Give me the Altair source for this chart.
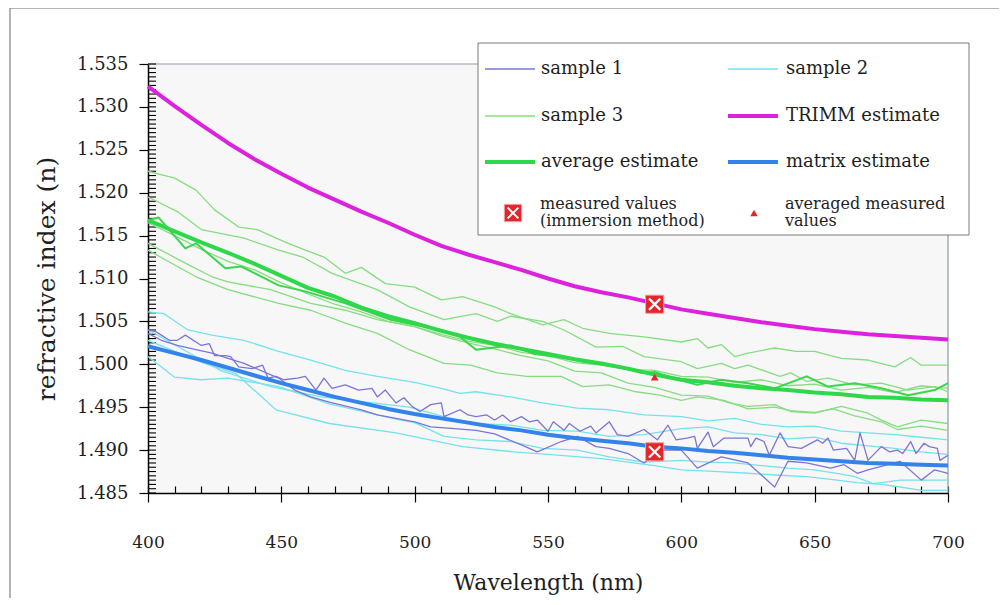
import altair as alt
import pandas as pd

# ---------------- data ----------------
WL10 = [400, 410, 420, 430, 440, 450, 460, 470, 480, 490, 500, 510, 520, 530, 540,
        550, 560, 570, 580, 590, 600, 610, 620, 630, 640, 650, 660, 670, 680, 690, 700]

TRIMM_N = [1.5324, 1.5301, 1.5279, 1.5258, 1.5239, 1.5222, 1.5206, 1.5192, 1.5178, 1.5165,
           1.5151, 1.5138, 1.5128, 1.5119, 1.5110, 1.5100, 1.5091, 1.5084, 1.5078, 1.5071,
           1.5064, 1.5059, 1.5054, 1.5049, 1.5045, 1.5041, 1.5038, 1.5035, 1.5033, 1.5031, 1.5029]

MATRIX_N = [1.5021, 1.5013, 1.5005, 1.4996, 1.4987, 1.4978, 1.4970, 1.4962, 1.4955, 1.4948,
            1.4942, 1.4937, 1.4932, 1.4927, 1.4923, 1.4918, 1.4914, 1.4911, 1.4908, 1.4904,
            1.4902, 1.4899, 1.4897, 1.4894, 1.4891, 1.4889, 1.4887, 1.4885, 1.4884, 1.4883, 1.4882]

AVG_N = [1.5168, 1.5155, 1.5142, 1.5130, 1.5117, 1.5103, 1.5089, 1.5079, 1.5066, 1.5056,
         1.5048, 1.5039, 1.5031, 1.5024, 1.5018, 1.5012, 1.5006, 1.5001, 1.4995, 1.4988,
         1.4982, 1.4979, 1.4975, 1.4972, 1.4970, 1.4967, 1.4965, 1.4962, 1.4961, 1.4959, 1.4958]

# bright green measured average (zig-zag companion of the average estimate)
AVGM_WL = [400, 404, 414, 418, 429, 435, 449, 459, 474, 491, 500, 510, 517, 523, 536, 545, 555,
           565, 575, 585, 590, 600, 606, 615, 625, 635, 647, 655, 665, 675, 685, 695, 700]
AVGM_N = [1.5168, 1.5171, 1.5135, 1.5141, 1.5112, 1.5114, 1.5092, 1.5085, 1.5071, 1.5052,
          1.5046, 1.5040, 1.5032, 1.5017, 1.5022, 1.5012, 1.5008, 1.5002, 1.4998, 1.4990,
          1.4991, 1.4981, 1.4976, 1.4982, 1.4978, 1.4972, 1.4986, 1.4974, 1.4978, 1.4972,
          1.4964, 1.4970, 1.4978]

# sample 3 (green)
G1_WL = [400, 410, 418, 425, 434, 441, 451, 459, 466, 474, 480, 489, 500, 510, 518, 530, 536,
         548, 556, 563, 573, 586, 600, 606, 610, 615, 620, 625, 635, 643, 650, 660, 670, 680,
         686, 690, 700]
G1_N = [1.5225, 1.5217, 1.5203, 1.5180, 1.5160, 1.5157, 1.5143, 1.5133, 1.5125, 1.5106,
        1.5113, 1.5094, 1.5090, 1.5075, 1.5079, 1.5067, 1.5059, 1.5046, 1.5052, 1.5042,
        1.5036, 1.5032, 1.5026, 1.5030, 1.5019, 1.5023, 1.5009, 1.5013, 1.5019, 1.5015,
        1.5015, 1.5007, 1.5005, 1.4997, 1.5008, 1.4999, 1.4999]
G2_WL = [400, 411, 420, 436, 449, 458, 469, 486, 498, 511, 523, 531, 536, 548, 556, 568, 578,
         586, 600, 606, 615, 620, 625, 637, 641, 647, 655, 665, 675, 685, 695, 700]
G2_N = [1.5195, 1.5178, 1.5157, 1.5147, 1.5133, 1.5125, 1.5106, 1.5087, 1.5067, 1.5052,
        1.5059, 1.5050, 1.5056, 1.5050, 1.5040, 1.5020, 1.5021, 1.5009, 1.5003, 1.4995,
        1.5001, 1.4995, 1.4999, 1.4986, 1.4990, 1.4980, 1.4984, 1.4976, 1.4978, 1.4970,
        1.4974, 1.4968]
G3_N = [1.5165, 1.5150, 1.5134, 1.5120, 1.5110, 1.5095, 1.5082, 1.5070, 1.5061, 1.5050,
        1.5044, 1.5035, 1.5027, 1.5022, 1.5014, 1.5010, 1.5002, 1.4999, 1.4994, 1.4993,
        1.4986, 1.4985, 1.4979, 1.4982, 1.4975, 1.4977, 1.4970, 1.4973, 1.4967, 1.4975, 1.4972]
G4_WL = [400, 414, 424, 430, 446, 461, 474, 486, 500, 510, 520, 530, 540, 550, 560, 570, 580,
         590, 600, 610, 618, 625, 635, 641, 650, 660, 670, 675, 681, 690, 700]
G4_N = [1.5141, 1.5118, 1.5102, 1.5096, 1.5087, 1.5071, 1.5063, 1.5052, 1.5044, 1.5033,
        1.5025, 1.5018, 1.5010, 1.5004, 1.4992, 1.4990, 1.4978, 1.4973, 1.4964, 1.4963,
        1.4955, 1.4951, 1.4953, 1.4945, 1.4943, 1.4951, 1.4943, 1.4935, 1.4927, 1.4935, 1.4931]
G5_WL = [400, 418, 430, 449, 461, 474, 486, 498, 511, 521, 531, 542, 555, 563, 573, 583, 592,
         600, 606, 616, 625, 635, 641, 650, 657, 665, 675, 681, 690, 700]
G5_N = [1.5133, 1.5102, 1.5087, 1.5071, 1.5063, 1.5048, 1.5036, 1.5017, 1.5001, 1.4999,
        1.4990, 1.4986, 1.4986, 1.4974, 1.4976, 1.4968, 1.4964, 1.4958, 1.4962, 1.4958,
        1.4948, 1.4950, 1.4946, 1.4944, 1.4948, 1.4940, 1.4933, 1.4924, 1.4928, 1.4923]

# sample 2 (cyan)
C1_WL = [400, 406, 415, 424, 436, 449, 461, 474, 486, 500, 510, 517, 523, 536, 548, 561, 573,
         586, 600, 610, 620, 630, 640, 650, 660, 670, 680, 690, 700]
C1_N = [1.5061, 1.5059, 1.5040, 1.5034, 1.5028, 1.5015, 1.5005, 1.4993, 1.4986, 1.4979,
        1.4972, 1.4966, 1.4968, 1.4962, 1.4955, 1.4949, 1.4947, 1.4941, 1.4939, 1.4934,
        1.4937, 1.4930, 1.4927, 1.4928, 1.4922, 1.4920, 1.4918, 1.4915, 1.4912]
C2_WL = [400, 411, 427, 446, 465, 490, 498, 511, 523, 536, 548, 561, 573, 586, 600, 610, 620,
         630, 640, 650, 660, 670, 680, 690, 700]
C2_N = [1.5040, 1.5021, 1.4993, 1.4974, 1.4962, 1.4953, 1.4950, 1.4939, 1.4931, 1.4929,
        1.4923, 1.4922, 1.4916, 1.4918, 1.4925, 1.4927, 1.4920, 1.4918, 1.4913, 1.4915,
        1.4908, 1.4905, 1.4902, 1.4898, 1.4895]
C3_WL = [400, 410, 420, 430, 449, 468, 493, 500, 511, 523, 536, 548, 561, 573, 586, 600, 610,
         620, 630, 640, 650, 660, 665, 672, 682, 700]
C3_N = [1.5009, 1.4985, 1.4982, 1.4984, 1.4974, 1.4954, 1.4936, 1.4932, 1.4916, 1.4912,
        1.4910, 1.4902, 1.4900, 1.4892, 1.4886, 1.4888, 1.4886, 1.4885, 1.4882, 1.4879,
        1.4877, 1.4872, 1.4869, 1.4861, 1.4865, 1.4865]
C4_WL = [400, 421, 433, 448, 468, 493, 518, 537, 550, 570, 590, 600, 614, 625, 635, 647, 656,
         666, 675, 682, 690, 700]
C4_N = [1.5028, 1.5001, 1.4989, 1.4947, 1.4931, 1.4920, 1.4904, 1.4898, 1.4895, 1.4890,
        1.4882, 1.4877, 1.4875, 1.4873, 1.4871, 1.4869, 1.4866, 1.4862, 1.4860, 1.4857,
        1.4853, 1.4853]

# sample 1 (blue-violet, noisy)
S1A_WL = [400, 403, 405, 408, 411, 414, 420, 423, 425, 429, 431, 434, 439, 443, 445, 448, 451,
          456, 459, 463, 466, 469, 474, 479, 484, 486, 489, 493, 496, 499, 502, 506, 510, 511,
          517, 520, 523, 527, 530, 533, 536, 540, 543, 546, 550, 552, 556, 558, 562, 566, 568,
          573, 576, 580, 586, 591, 595, 598, 602, 605, 606, 610, 612, 616, 625, 626, 628, 631,
          633, 637, 640, 645, 651, 653, 655, 657, 662, 665, 667, 670, 675, 678, 681, 683, 686,
          688, 691, 693, 696, 697, 700]
S1A_N = [1.5040, 1.5038, 1.5034, 1.5028, 1.5028, 1.5034, 1.5022, 1.5024, 1.5010, 1.5010,
         1.5009, 1.4997, 1.4995, 1.4999, 1.4984, 1.4986, 1.4982, 1.4984, 1.4986, 1.4970,
         1.4984, 1.4972, 1.4976, 1.4970, 1.4972, 1.4962, 1.4970, 1.4955, 1.4961, 1.4951,
         1.4945, 1.4953, 1.4955, 1.4939, 1.4947, 1.4941, 1.4939, 1.4941, 1.4935, 1.4941,
         1.4933, 1.4939, 1.4933, 1.4935, 1.4922, 1.4933, 1.4923, 1.4931, 1.4922, 1.4928,
         1.4920, 1.4933, 1.4918, 1.4916, 1.4924, 1.4912, 1.4929, 1.4912,
         1.4914, 1.4916, 1.4902, 1.4921, 1.4904, 1.4914, 1.4914, 1.4904, 1.4914, 1.4910,
         1.4894, 1.4920, 1.4904, 1.4902, 1.4912, 1.4908, 1.4914, 1.4900, 1.4902, 1.4888,
         1.4920, 1.4888, 1.4904, 1.4898, 1.4900, 1.4896, 1.4910, 1.4896, 1.4908, 1.4904,
         1.4902, 1.4888, 1.4894]
S1B_WL = [400, 405, 411, 418, 424, 430, 436, 449, 455, 461, 468, 480, 486, 500, 506, 515, 523,
          530, 540, 546, 555, 561, 568, 573, 580, 586, 592, 600, 606, 615, 625, 635, 640, 647,
          656, 661, 666, 670, 675, 682, 690, 695, 700]
S1B_N = [1.5036, 1.5028, 1.5022, 1.5017, 1.5013, 1.5007, 1.5001, 1.4984, 1.4970, 1.4962,
         1.4956, 1.4947, 1.4941, 1.4933, 1.4927, 1.4925, 1.4923, 1.4919, 1.4906, 1.4898,
         1.4910, 1.4916, 1.4904, 1.4902, 1.4896, 1.4885, 1.4900, 1.4900, 1.4879, 1.4892,
         1.4885, 1.4857, 1.4887, 1.4885, 1.4879, 1.4883, 1.4873, 1.4877, 1.4881, 1.4887,
         1.4865, 1.4877, 1.4873]

# measured points
MEAS_WL = [590, 590]
MEAS_N = [1.5070, 1.4898]
AVG_MEAS_WL = [590]
AVG_MEAS_N = [1.4985]

X_TICKS = [400, 450, 500, 550, 600, 650, 700]
Y_TICKS = [1.485, 1.490, 1.495, 1.500, 1.505, 1.510, 1.515, 1.520, 1.525, 1.530, 1.535]
X_MINOR = [400 + 10 * i for i in range(31)]
Y_MINOR = [round(1.485 + 0.0005 * i, 4) for i in range(101)]

LEGEND_LINES = ["sample 1", "sample 2", "sample 3", "TRIMM estimate",
                "average estimate", "matrix estimate"]
LEGEND_MARKS = [["measured values", "(immersion method)"], ["averaged measured", "values"]]

# ---------------- styles ----------------
FONT = "DejaVu Serif"
TXT = "#1e1e1e"
W, H = 800, 429
RED = "#e3262b"

SERIES = ["sample 3", "sample 2", "sample 1", "average measured",
          "average estimate", "matrix estimate", "TRIMM estimate"]
COLORS = ["#86dd80", "#74e2ec", "#7c74d6", "#3ad64b", "#2fd84a", "#3483ea", "#dd22dd"]
WIDTHS = [1.3, 1.3, 1.3, 2.0, 4.0, 4.0, 4.0]
COLOR_OF = dict(zip(SERIES, COLORS))
WIDTH_OF = dict(zip(SERIES, WIDTHS))

line_defs = [
    ("sample 3", "g1", G1_WL, G1_N), ("sample 3", "g2", G2_WL, G2_N),
    ("sample 3", "g3", WL10, G3_N), ("sample 3", "g4", G4_WL, G4_N),
    ("sample 3", "g5", G5_WL, G5_N),
    ("sample 2", "c1", C1_WL, C1_N), ("sample 2", "c2", C2_WL, C2_N),
    ("sample 2", "c3", C3_WL, C3_N), ("sample 2", "c4", C4_WL, C4_N),
    ("sample 1", "s1a", S1A_WL, S1A_N), ("sample 1", "s1b", S1B_WL, S1B_N),
    ("average measured", "am", AVGM_WL, AVGM_N),
    ("average estimate", "avg", WL10, AVG_N),
    ("matrix estimate", "mat", WL10, MATRIX_N),
    ("TRIMM estimate", "trimm", WL10, TRIMM_N),
]
rows = []
for k, (s, key, wl, nn) in enumerate(line_defs):
    for w, v in zip(wl, nn):
        rows.append({"series": s, "line": f"{k:02d}_{key}", "wl": w, "n": v})
df = pd.DataFrame(rows)
meas = pd.DataFrame({"wl": MEAS_WL, "n": MEAS_N})
avgmeas = pd.DataFrame({"wl": AVG_MEAS_WL, "n": AVG_MEAS_N})
yminor = pd.DataFrame({"n": Y_MINOR})
one = pd.DataFrame({"k": [0]})

xs = alt.Scale(domain=[400, 700], nice=False, zero=False)
ys = alt.Scale(domain=[1.485, 1.535], nice=False, zero=False)
cs = alt.Scale(domain=SERIES, range=COLORS)

x_axis = alt.Axis(orient="bottom", values=X_TICKS, tickSize=9, tickWidth=1.2, tickColor="black",
                  domainColor="black", domainWidth=1.5, grid=False,
                  labelFont=FONT, labelFontSize=17, labelColor=TXT, labelPadding=32,
                  labelFlush=False, title="Wavelength (nm)", titleFont=FONT, titleFontSize=22,
                  titleFontWeight="normal", titleColor=TXT, titleY=89, titleBaseline="middle")
y_axis = alt.Axis(orient="left", values=Y_TICKS, format=".3f", tickSize=9, tickWidth=1.2,
                  tickColor="black", domainColor="black", domainWidth=1.5, grid=False,
                  labelFont=FONT, labelFontSize=18, labelColor=TXT, labelPadding=11,
                  labelFlush=False, title="refractive index (n)", titleFont=FONT,
                  titleFontSize=25, titleFontWeight="normal", titleColor=TXT,
                  titleX=-102, titleY=H / 2, titleAngle=270, titleBaseline="middle",
                  titleAlign="center")
x_inner = alt.Axis(orient="top", offset=-H, values=X_MINOR, tickSize=7, tickWidth=1.2,
                   tickColor="black", labels=False, domain=False, grid=False, title=None)

# frame (top and right edges of the plot area) and outer border
frame_top = alt.Chart(one).mark_rule(color="#8e99a3", strokeWidth=1.2).encode(
    x=alt.value(0), x2=alt.value(W), y=alt.value(0))
frame_right = alt.Chart(one).mark_rule(color="#8e99a3", strokeWidth=1.2).encode(
    x=alt.value(W), y=alt.value(0), y2=alt.value(H))
border = alt.Chart(one).mark_rect(fillOpacity=0, stroke="#6b6b6b", strokeWidth=1).encode(
    x=alt.value(-138), x2=alt.value(852), y=alt.value(-56), y2=alt.value(539))

# inward minor ticks on the y axis
y_minor_ticks = alt.Chart(yminor).mark_rule(color="black", strokeWidth=1.1).encode(
    y=alt.Y("n:Q", scale=ys, axis=None), x=alt.value(0), x2=alt.value(8))


def line_layer(series_list, width, with_axes=False):
    sub = df[df["series"].isin(series_list)]
    return alt.Chart(sub).mark_line(strokeWidth=width, strokeJoin="round").encode(
        x=alt.X("wl:Q", scale=xs, axis=x_axis if with_axes else None),
        y=alt.Y("n:Q", scale=ys, axis=y_axis if with_axes else None),
        color=alt.Color("series:N", scale=cs, legend=None),
        detail="line:N",
    )


thin = line_layer(["sample 3", "sample 2", "sample 1"], 1.3, with_axes=True)
medium = line_layer(["average measured"], 2.0)
thick = line_layer(["average estimate", "matrix estimate", "TRIMM estimate"], 4.0)

squares = alt.Chart(meas).mark_square(size=330, fill=RED, stroke="#f2a0a0", strokeWidth=1,
                                      opacity=1).encode(
    x=alt.X("wl:Q", scale=xs, axis=None), y=alt.Y("n:Q", scale=ys, axis=None))
XPATH = "M-0.62,-0.62L0.62,0.62M0.62,-0.62L-0.62,0.62"
crosses = alt.Chart(meas).mark_point(shape=XPATH, size=330, stroke="white", strokeWidth=2.2,
                                     filled=False, opacity=1).encode(
    x=alt.X("wl:Q", scale=xs, axis=None), y=alt.Y("n:Q", scale=ys, axis=None))
tri = alt.Chart(avgmeas).mark_point(shape="triangle-up", filled=True, color=RED, size=60,
                                    opacity=1).encode(
    x=alt.X("wl:Q", scale=xs, axis=x_inner), y=alt.Y("n:Q", scale=ys, axis=None))

# ---------------- legend (drawn by hand) ----------------
leg = [alt.Chart(one).mark_rect(fill="white", stroke="#7a7a7a", strokeWidth=1).encode(
    x=alt.value(330), x2=alt.value(821), y=alt.value(-21), y2=alt.value(171))]
col_line_x = [337, 580]
col_text_x = [393, 638]
row_y = [5, 52, 98]
for i, name in enumerate(LEGEND_LINES):
    c, r = i % 2, i // 2
    leg.append(alt.Chart(one).mark_rule(color=COLOR_OF[name], strokeWidth=WIDTH_OF[name]).encode(
        x=alt.value(col_line_x[c]), x2=alt.value(col_line_x[c] + 50), y=alt.value(row_y[r])))
    leg.append(alt.Chart(one).mark_text(align="left", baseline="middle", font=FONT,
                                        fontSize=18, color=TXT).encode(
        x=alt.value(col_text_x[c]), y=alt.value(row_y[r]), text=alt.value(name)))
leg.append(alt.Chart(one).mark_square(size=300, fill=RED, stroke="#f2a0a0", strokeWidth=1,
                                      opacity=1).encode(x=alt.value(365), y=alt.value(149)))
leg.append(alt.Chart(one).mark_point(shape=XPATH, size=300, stroke="white", strokeWidth=2,
                                     filled=False, opacity=1).encode(
    x=alt.value(365), y=alt.value(149)))
leg.append(alt.Chart(one).mark_point(shape="triangle-up", filled=True, color=RED, size=55,
                                     opacity=1).encode(x=alt.value(606), y=alt.value(149)))
mark_text_x = [392, 637]
for c, pair in enumerate(LEGEND_MARKS):
    for j, t in enumerate(pair):
        leg.append(alt.Chart(one).mark_text(align="left", baseline="middle", font=FONT,
                                            fontSize=16, color=TXT).encode(
            x=alt.value(mark_text_x[c]), y=alt.value(140 + 17 * j), text=alt.value(t)))

chart = alt.layer(
    border, frame_top, frame_right, y_minor_ticks, thin, medium, thick,
    squares, crosses, tri, *leg
).resolve_axis(x="independent", y="independent").properties(
    width=W, height=H,
    autosize=alt.AutoSizeParams(type="none"),
    padding={"left": 140, "top": 56, "right": 51, "bottom": 105},
    background="white",
).configure_view(fill="#f7f7f7", stroke="transparent")

chart.save("out.html", embed_options={"renderer": "svg", "actions": False})
